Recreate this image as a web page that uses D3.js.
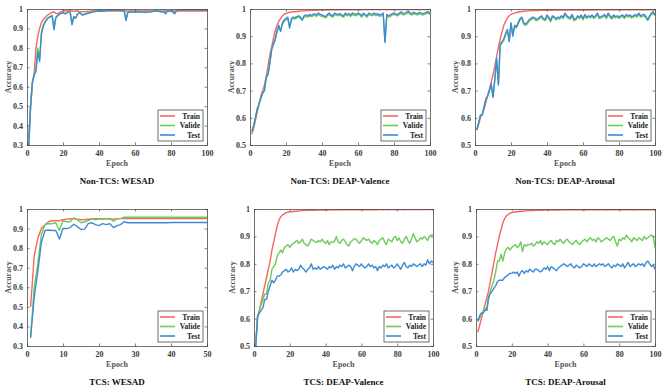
<!DOCTYPE html>
<html>
<head>
<meta charset="utf-8">
<script src="https://cdn.jsdelivr.net/npm/d3@7"></script>
<style>
  body { margin: 0; background: #fff; }
  svg text { font-family: "Liberation Serif", "Times New Roman", serif; }
</style>
</head>
<body>
<script>
// ---- data ----
var seriesNames = ["Train", "Valide", "Test"];
var seriesColors = ["#f5685c", "#6dcb5a", "#3f8ad6"];

var train1 = [0.34,0.50,0.62,0.67,0.80,0.86,0.90,0.93,0.945,0.955,
0.965,0.972,0.978,0.983,0.985,0.978,0.975,0.982,0.987,0.99,
0.99,0.992,0.99,0.992,0.99,0.988,0.99,0.991,0.988,0.986,
0.985,0.986,0.988,0.987,0.989,0.99,0.991,0.99,0.991,0.99,
0.99,0.991,0.99,0.99,0.991,0.99,0.99,0.99,0.991,0.99,
0.99,0.99,0.991,0.99,0.99,0.99,0.99,0.991,0.99,0.99,
0.99,0.991,0.99,0.99,0.99,0.991,0.99,0.99,0.99,0.991,
0.99,0.99,0.991,0.99,0.99,0.99,0.991,0.99,0.99,0.99,
0.991,0.99,0.99,0.99,0.991,0.99,0.99,0.99,0.991,0.99,
0.99,0.99,0.991,0.99,0.99,0.99,0.991,0.99,0.99,0.99];
var valid1 = [0.30,0.50,0.63,0.66,0.70,0.80,0.74,0.88,0.915,0.935,
0.948,0.957,0.962,0.967,0.90,0.958,0.966,0.974,0.979,0.981,
0.977,0.98,0.986,0.984,0.925,0.962,0.955,0.974,0.981,0.977,
0.97,0.974,0.977,0.98,0.982,0.985,0.987,0.988,0.99,0.991,
0.991,0.992,0.991,0.993,0.994,0.994,0.993,0.994,0.995,0.994,
0.994,0.993,0.994,0.991,0.945,0.983,0.986,0.985,0.986,0.984,
0.986,0.987,0.985,0.986,0.984,0.983,0.986,0.987,0.986,0.989,
0.991,0.991,0.989,0.987,0.988,0.986,0.977,0.991,0.99,0.989,
0.987,0.977,0.991,0.996,0.997,0.997,0.996,0.997,0.997,0.997,
0.996,0.997,0.997,0.996,0.997,0.997,0.996,0.997,0.997,0.997];
var test1 = [0.30,0.50,0.62,0.66,0.68,0.78,0.73,0.87,0.91,0.93,
0.945,0.955,0.96,0.965,0.893,0.955,0.965,0.972,0.978,0.98,
0.975,0.978,0.985,0.983,0.918,0.96,0.952,0.972,0.98,0.975,
0.968,0.972,0.975,0.978,0.98,0.983,0.985,0.987,0.99,0.99,
0.99,0.991,0.99,0.992,0.993,0.993,0.992,0.993,0.994,0.993,
0.993,0.992,0.993,0.99,0.94,0.982,0.985,0.984,0.985,0.983,
0.985,0.986,0.984,0.985,0.983,0.982,0.985,0.986,0.985,0.988,
0.99,0.99,0.988,0.986,0.987,0.985,0.975,0.99,0.989,0.988,
0.986,0.975,0.99,0.995,0.996,0.996,0.995,0.996,0.996,0.996,
0.995,0.996,0.996,0.995,0.996,0.996,0.995,0.996,0.996,0.996];

var train2 = [0.54,0.56,0.59,0.62,0.65,0.68,0.70,0.72,0.75,0.79,
0.83,0.86,0.89,0.92,0.94,0.955,0.965,0.975,0.98,0.984,
0.986,0.988,0.989,0.99,0.99,0.991,0.992,0.992,0.993,0.993,
0.994,0.994,0.994,0.995,0.995,0.995,0.995,0.996,0.996,0.996,
0.996,0.996,0.997,0.996,0.997,0.997,0.996,0.997,0.997,0.997,
0.997,0.997,0.998,0.997,0.997,0.998,0.997,0.997,0.998,0.997,
0.998,0.997,0.998,0.998,0.997,0.998,0.998,0.997,0.998,0.998,
0.998,0.997,0.998,0.998,0.998,0.997,0.998,0.998,0.998,0.998,
0.997,0.998,0.998,0.998,0.998,0.998,0.997,0.998,0.998,0.998,
0.998,0.998,0.998,0.997,0.998,0.998,0.998,0.998,0.998,0.998];
var valid2 = [0.55,0.57,0.60,0.635,0.65,0.675,0.69,0.70,0.745,0.76,
0.80,0.85,0.87,0.885,0.915,0.935,0.92,0.945,0.955,0.96,
0.965,0.935,0.96,0.965,0.963,0.967,0.97,0.966,0.958,0.97,
0.973,0.97,0.975,0.972,0.975,0.977,0.973,0.98,0.975,0.973,
0.97,0.967,0.975,0.98,0.973,0.97,0.98,0.977,0.975,0.978,
0.973,0.97,0.98,0.975,0.978,0.973,0.98,0.977,0.975,0.98,
0.978,0.97,0.98,0.975,0.97,0.98,0.977,0.975,0.98,0.975,
0.978,0.973,0.975,0.98,0.88,0.975,0.97,0.973,0.978,0.98,
0.977,0.975,0.98,0.985,0.978,0.98,0.983,0.987,0.98,0.978,
0.983,0.98,0.978,0.982,0.98,0.978,0.98,0.983,0.985,0.98];
var test2 = [0.55,0.57,0.60,0.63,0.65,0.67,0.69,0.70,0.75,0.76,
0.80,0.85,0.87,0.89,0.92,0.94,0.918,0.95,0.96,0.965,
0.97,0.93,0.965,0.97,0.968,0.972,0.975,0.97,0.96,0.975,
0.978,0.975,0.98,0.976,0.98,0.982,0.978,0.985,0.98,0.978,
0.975,0.972,0.98,0.985,0.978,0.975,0.985,0.982,0.98,0.983,
0.978,0.975,0.985,0.98,0.983,0.978,0.985,0.982,0.98,0.985,
0.983,0.975,0.985,0.98,0.975,0.985,0.982,0.98,0.985,0.98,
0.983,0.978,0.98,0.985,0.877,0.98,0.975,0.978,0.983,0.985,
0.982,0.98,0.985,0.99,0.983,0.985,0.988,0.992,0.985,0.983,
0.988,0.985,0.983,0.987,0.985,0.983,0.985,0.988,0.99,0.985];

var train3 = [0.555,0.575,0.60,0.615,0.63,0.655,0.68,0.705,0.73,0.76,
0.79,0.825,0.86,0.89,0.915,0.94,0.955,0.967,0.975,0.98,
0.983,0.985,0.987,0.989,0.99,0.991,0.992,0.992,0.993,0.993,
0.994,0.994,0.994,0.995,0.994,0.995,0.995,0.995,0.996,0.995,
0.995,0.996,0.995,0.996,0.996,0.995,0.996,0.996,0.996,0.995,
0.996,0.996,0.996,0.997,0.996,0.996,0.996,0.997,0.996,0.996,
0.997,0.996,0.996,0.997,0.996,0.997,0.996,0.997,0.997,0.996,
0.997,0.997,0.996,0.997,0.997,0.997,0.996,0.997,0.997,0.997,
0.996,0.997,0.997,0.997,0.997,0.996,0.997,0.997,0.997,0.997,
0.997,0.997,0.996,0.997,0.997,0.997,0.997,0.997,0.996,0.997];
var valid3 = [0.555,0.58,0.61,0.61,0.64,0.665,0.68,0.70,0.72,0.68,
0.74,0.815,0.725,0.865,0.875,0.885,0.905,0.92,0.885,0.945,
0.905,0.935,0.93,0.945,0.96,0.965,0.945,0.94,0.945,0.955,
0.96,0.965,0.963,0.957,0.96,0.965,0.97,0.96,0.957,0.972,
0.965,0.953,0.97,0.967,0.96,0.965,0.963,0.97,0.965,0.98,
0.97,0.965,0.963,0.975,0.957,0.96,0.97,0.965,0.973,0.96,
0.975,0.965,0.97,0.967,0.973,0.965,0.97,0.98,0.965,0.967,
0.97,0.975,0.965,0.98,0.97,0.963,0.973,0.967,0.97,0.965,
0.97,0.973,0.965,0.975,0.97,0.973,0.967,0.97,0.975,0.97,
0.98,0.97,0.973,0.975,0.967,0.958,0.97,0.98,0.985,0.975];
var test3 = [0.555,0.58,0.61,0.61,0.64,0.67,0.68,0.70,0.725,0.675,
0.74,0.82,0.72,0.87,0.88,0.89,0.91,0.925,0.88,0.95,
0.90,0.94,0.935,0.95,0.965,0.97,0.95,0.945,0.95,0.96,
0.965,0.97,0.968,0.962,0.965,0.97,0.975,0.965,0.962,0.978,
0.97,0.958,0.975,0.972,0.965,0.97,0.968,0.975,0.97,0.985,
0.975,0.97,0.968,0.98,0.962,0.965,0.975,0.97,0.978,0.965,
0.98,0.97,0.975,0.972,0.978,0.97,0.975,0.985,0.97,0.972,
0.975,0.98,0.97,0.985,0.975,0.968,0.978,0.972,0.975,0.97,
0.975,0.978,0.97,0.98,0.975,0.978,0.972,0.975,0.98,0.975,
0.985,0.975,0.978,0.98,0.972,0.96,0.975,0.985,0.99,0.978];

var train4 = [0.50,0.76,0.85,0.90,0.92,0.935,0.94,0.94,0.94,0.945,
0.948,0.95,0.95,0.948,0.945,0.946,0.948,0.949,0.95,0.95,
0.95,0.95,0.949,0.948,0.95,0.951,0.951,0.951,0.951,0.951,
0.951,0.951,0.951,0.951,0.951,0.951,0.951,0.951,0.951,0.951,
0.951,0.951,0.951,0.951,0.951,0.951,0.951,0.951,0.951,0.951];
var valid4 = [0.34,0.60,0.72,0.87,0.92,0.925,0.925,0.93,0.89,0.94,
0.935,0.935,0.955,0.945,0.93,0.935,0.94,0.95,0.945,0.95,
0.948,0.95,0.952,0.937,0.95,0.952,0.958,0.958,0.958,0.958,
0.958,0.958,0.958,0.958,0.958,0.958,0.958,0.958,0.958,0.958,
0.958,0.958,0.958,0.958,0.958,0.958,0.958,0.958,0.958,0.958];
var test4 = [0.345,0.55,0.68,0.83,0.89,0.893,0.89,0.89,0.847,0.90,
0.90,0.905,0.922,0.91,0.895,0.897,0.925,0.93,0.92,0.915,
0.925,0.92,0.925,0.905,0.915,0.92,0.935,0.93,0.93,0.93,
0.93,0.93,0.93,0.93,0.93,0.93,0.93,0.93,0.93,0.931,
0.931,0.931,0.931,0.931,0.931,0.931,0.931,0.931,0.931,0.931];

var train5 = [0.52,0.60,0.63,0.66,0.69,0.72,0.75,0.78,0.81,0.85,
0.88,0.91,0.94,0.96,0.972,0.978,0.983,0.987,0.989,0.99,
0.99,0.991,0.992,0.992,0.993,0.993,0.994,0.994,0.995,0.995,
0.995,0.995,0.996,0.995,0.996,0.996,0.996,0.996,0.997,0.996,
0.996,0.997,0.997,0.996,0.997,0.997,0.997,0.997,0.996,0.997,
0.997,0.997,0.997,0.997,0.998,0.997,0.997,0.997,0.998,0.997,
0.997,0.998,0.997,0.997,0.998,0.997,0.998,0.997,0.997,0.998,
0.998,0.997,0.998,0.998,0.997,0.998,0.998,0.998,0.997,0.998,
0.998,0.998,0.998,0.997,0.998,0.998,0.998,0.998,0.998,0.998,
0.998,0.998,0.998,0.998,0.998,0.998,0.998,0.998,0.998,0.998];
var valid5 = [0.50,0.61,0.63,0.65,0.67,0.69,0.69,0.73,0.74,0.78,
0.79,0.80,0.83,0.84,0.85,0.84,0.86,0.865,0.87,0.86,
0.87,0.875,0.88,0.885,0.875,0.88,0.89,0.875,0.87,0.865,
0.875,0.89,0.885,0.88,0.878,0.885,0.88,0.89,0.88,0.875,
0.885,0.87,0.88,0.878,0.882,0.90,0.88,0.875,0.885,0.89,
0.88,0.87,0.865,0.88,0.885,0.892,0.89,0.88,0.875,0.885,
0.895,0.89,0.885,0.89,0.88,0.875,0.885,0.88,0.87,0.885,
0.89,0.895,0.88,0.87,0.89,0.885,0.88,0.895,0.90,0.885,
0.895,0.88,0.875,0.89,0.90,0.885,0.875,0.89,0.91,0.895,
0.88,0.885,0.895,0.89,0.90,0.895,0.885,0.90,0.905,0.905];
var test5 = [0.50,0.61,0.62,0.63,0.64,0.67,0.67,0.70,0.72,0.74,
0.73,0.74,0.755,0.755,0.76,0.77,0.775,0.78,0.77,0.775,
0.785,0.77,0.78,0.775,0.78,0.795,0.785,0.78,0.77,0.78,
0.785,0.80,0.78,0.785,0.78,0.79,0.78,0.785,0.79,0.785,
0.78,0.79,0.785,0.795,0.78,0.79,0.785,0.795,0.79,0.80,
0.785,0.79,0.795,0.79,0.775,0.79,0.80,0.795,0.79,0.80,
0.79,0.785,0.79,0.80,0.79,0.795,0.785,0.79,0.775,0.79,
0.785,0.795,0.79,0.80,0.785,0.79,0.795,0.785,0.79,0.80,
0.79,0.78,0.795,0.805,0.79,0.785,0.795,0.79,0.80,0.795,
0.79,0.795,0.80,0.79,0.80,0.795,0.815,0.80,0.81,0.805];

var train6 = [0.55,0.575,0.60,0.625,0.65,0.675,0.70,0.735,0.77,0.805,
0.84,0.87,0.90,0.925,0.95,0.965,0.975,0.98,0.985,0.987,
0.988,0.99,0.99,0.991,0.992,0.992,0.993,0.993,0.994,0.994,
0.995,0.994,0.995,0.995,0.995,0.996,0.995,0.996,0.996,0.996,
0.996,0.996,0.997,0.996,0.996,0.997,0.996,0.997,0.997,0.996,
0.997,0.997,0.997,0.996,0.997,0.997,0.997,0.997,0.996,0.997,
0.997,0.997,0.997,0.997,0.997,0.996,0.997,0.997,0.997,0.997,
0.997,0.997,0.996,0.997,0.997,0.997,0.997,0.997,0.997,0.997,
0.997,0.997,0.997,0.997,0.997,0.997,0.997,0.996,0.997,0.997,
0.997,0.997,0.997,0.997,0.997,0.997,0.997,0.997,0.997,0.997];
var valid6 = [0.59,0.60,0.62,0.625,0.64,0.63,0.67,0.70,0.72,0.74,
0.77,0.81,0.81,0.835,0.81,0.84,0.855,0.86,0.85,0.86,
0.865,0.87,0.86,0.865,0.88,0.845,0.87,0.865,0.87,0.87,
0.875,0.865,0.87,0.88,0.875,0.885,0.87,0.88,0.875,0.87,
0.88,0.885,0.875,0.87,0.885,0.88,0.89,0.88,0.875,0.885,
0.89,0.88,0.875,0.87,0.88,0.885,0.875,0.87,0.88,0.885,
0.89,0.88,0.89,0.895,0.885,0.89,0.88,0.895,0.89,0.88,
0.885,0.89,0.895,0.89,0.885,0.895,0.90,0.88,0.865,0.89,
0.885,0.895,0.89,0.905,0.895,0.89,0.88,0.895,0.89,0.885,
0.895,0.89,0.885,0.90,0.89,0.895,0.90,0.905,0.90,0.86];
var test6 = [0.59,0.61,0.62,0.62,0.63,0.63,0.68,0.69,0.70,0.71,
0.72,0.735,0.74,0.74,0.74,0.75,0.755,0.76,0.765,0.765,
0.77,0.765,0.77,0.755,0.77,0.775,0.765,0.775,0.77,0.78,
0.775,0.77,0.78,0.78,0.775,0.77,0.775,0.785,0.78,0.79,
0.775,0.79,0.785,0.78,0.775,0.785,0.79,0.795,0.80,0.795,
0.79,0.795,0.80,0.79,0.785,0.795,0.79,0.785,0.79,0.80,
0.795,0.79,0.80,0.795,0.79,0.80,0.79,0.795,0.80,0.795,
0.80,0.79,0.795,0.80,0.79,0.785,0.795,0.79,0.80,0.795,
0.79,0.80,0.785,0.795,0.805,0.79,0.795,0.80,0.79,0.795,
0.80,0.795,0.80,0.79,0.805,0.81,0.80,0.79,0.795,0.78];

var titles = ["Non-TCS: WESAD", "Non-TCS: DEAP-Valence", "Non-TCS: DEAP-Arousal",
              "TCS: WESAD", "TCS: DEAP-Valence", "TCS: DEAP-Arousal"];
var epochMax = [100, 100, 100, 50, 100, 100];
var accMin = [0.3, 0.5, 0.5, 0.3, 0.5, 0.5];
var allSeries = [[train1, valid1, test1], [train2, valid2, test2], [train3, valid3, test3],
                 [train4, valid4, test4], [train5, valid5, test5], [train6, valid6, test6]];

// ---- layout ----
var width = 667, height = 386;
var boxes = [
	{ x: 27, y: 9, w: 180, h: 136, labelX: 8 },
	{ x: 250, y: 9, w: 180, h: 136, labelX: 231 },
	{ x: 475, y: 9, w: 180, h: 136, labelX: 455 },
	{ x: 27, y: 209, w: 180, h: 137, labelX: 8 },
	{ x: 254, y: 209, w: 179, h: 137, labelX: 232 },
	{ x: 476, y: 209, w: 179, h: 137, labelX: 455 }
];

var svg = d3.select("body").append("svg")
	.attr("width", width)
	.attr("height", height);

boxes.forEach(function (b, i) {
	var g = svg.append("g").attr("transform", "translate(" + b.x + "," + b.y + ")");

	var x = d3.scaleLinear().domain([0, epochMax[i]]).range([0, b.w]);
	var y = d3.scaleLinear().domain([accMin[i], 1]).range([b.h, 0]);

	var yTicks = d3.range(Math.round(accMin[i] * 10), 11).map(function (v) { return v / 10; });
	var xTicks = d3.range(0, epochMax[i] + 1, epochMax[i] / 5);

	// lines (clipped to the axes box)
	var clipId = "clip" + i;
	g.append("clipPath").attr("id", clipId)
		.append("rect").attr("width", b.w).attr("height", b.h);

	var line = d3.line()
		.x(function (d, k) { return x(k + 1); })
		.y(function (d) { return y(d); });

	allSeries[i].forEach(function (s, k) {
		g.append("path")
			.datum(s)
			.attr("clip-path", "url(#" + clipId + ")")
			.attr("fill", "none")
			.attr("stroke", seriesColors[k])
			.attr("stroke-width", 1.4)
			.attr("stroke-linejoin", "round")
			.attr("d", line);
	});

	// axes, MATLAB style: ticks inside, box on
	var bottom = g.append("g").attr("transform", "translate(0," + b.h + ")")
		.call(d3.axisBottom(x).tickValues(xTicks).tickSize(-2.5).tickPadding(5).tickFormat(d3.format("d")));
	var left = g.append("g")
		.call(d3.axisLeft(y).tickValues(yTicks).tickSize(-2.5).tickPadding(4)
			.tickFormat(function (d) { return d === 1 ? "1" : d3.format(".1f")(d); }));
	var top = g.append("g")
		.call(d3.axisTop(x).tickValues(xTicks).tickSize(-2.5).tickFormat(""));
	var right = g.append("g").attr("transform", "translate(" + b.w + ",0)")
		.call(d3.axisRight(y).tickValues(yTicks).tickSize(-2.5).tickFormat(""));

	[bottom, left, top, right].forEach(function (a) {
		a.select(".domain").attr("stroke", "#4d4d4d").attr("stroke-width", 0.8);
		a.selectAll(".tick line").attr("stroke", "#4d4d4d").attr("stroke-width", 0.7);
		a.selectAll(".tick text")
			.attr("fill", "#3a3a3a")
			.style("font-family", "'Liberation Serif', serif")
			.style("font-weight", "bold")
			.style("font-size", "8px");
	});

	// axis labels
	g.append("text")
		.attr("x", b.w / 2)
		.attr("y", b.h + 21)
		.attr("text-anchor", "middle")
		.attr("fill", "#555")
		.style("font-weight", "bold")
		.style("font-size", "8px")
		.text("Epoch");
	g.append("text")
		.attr("transform", "translate(" + (b.labelX - b.x) + "," + (b.h / 2) + ") rotate(-90)")
		.attr("text-anchor", "middle")
		.attr("dy", "0.35em")
		.attr("fill", "#555")
		.style("font-weight", "bold")
		.style("font-size", "8px")
		.text("Accuracy");

	// title
	g.append("text")
		.attr("x", b.w / 2)
		.attr("y", b.h + 39)
		.attr("text-anchor", "middle")
		.attr("fill", "#111")
		.style("font-weight", "bold")
		.style("font-size", "9px")
		.text(titles[i]);

	// legend box at bottom right
	var lg = g.append("g").attr("transform", "translate(" + (b.w - 49) + "," + (b.h - 35) + ")");
	lg.append("rect")
		.attr("width", 45).attr("height", 31)
		.attr("fill", "#fff")
		.attr("stroke", "#4d4d4d")
		.attr("stroke-width", 0.8);
	seriesNames.forEach(function (name, k) {
		var ly = 6 + k * 9.5;
		lg.append("line")
			.attr("x1", 2).attr("x2", 17)
			.attr("y1", ly).attr("y2", ly)
			.attr("stroke", seriesColors[k])
			.attr("stroke-width", 1.6);
		lg.append("text")
			.attr("x", 42).attr("y", ly + 2.6)
			.attr("text-anchor", "end")
			.attr("fill", "#222")
			.style("font-weight", "bold")
			.style("font-size", "7.5px")
			.text(name);
	});
});
</script>
</body>
</html>
